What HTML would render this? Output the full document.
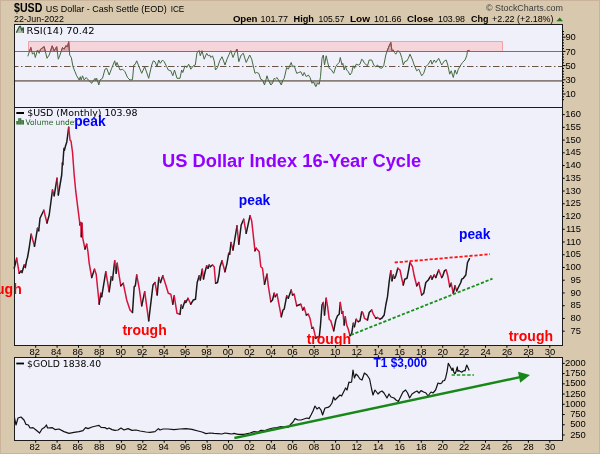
<!DOCTYPE html>
<html><head><meta charset="utf-8"><title>$USD US Dollar Index 16-Year Cycle</title>
<style>html,body{margin:0;padding:0;background:#d8c8ad;}body{width:600px;height:454px;overflow:hidden}</style>
</head><body>
<svg width="600" height="454" viewBox="0 0 600 454" style="display:block">
<rect width="600" height="454" fill="#d8c8ad"/>
<rect x="0.5" y="0.5" width="599" height="453" fill="none" stroke="#cbb29a" stroke-width="1"/>
<defs>
<clipPath id="c1"><rect x="14.5" y="24.5" width="548.0" height="83.0"/></clipPath>
<clipPath id="c2"><rect x="0" y="107.5" width="562.5" height="238.0"/></clipPath>
<clipPath id="c3"><rect x="14.5" y="357.5" width="548.0" height="83.0"/></clipPath>
</defs>
<rect x="14.5" y="24.5" width="548.0" height="83.0" fill="#eff0fa"/>
<rect x="14.5" y="107.5" width="548.0" height="238.0" fill="#eff0fa"/>
<rect x="14.5" y="357.5" width="548.0" height="83.0" fill="#eff0fa"/>
<text x="14" y="11.7" font-family="Liberation Sans, Arial, sans-serif" font-size="12.5" font-weight="bold" fill="#000" textLength="28.3" lengthAdjust="spacingAndGlyphs">$USD</text>
<text x="45.7" y="11.7" font-family="Liberation Sans, Arial, sans-serif" font-size="9.2" fill="#000" textLength="121" lengthAdjust="spacingAndGlyphs">US Dollar - Cash Settle (EOD)</text>
<text x="170.7" y="11.7" font-family="Liberation Sans, Arial, sans-serif" font-size="8.5" fill="#000" textLength="13.6" lengthAdjust="spacingAndGlyphs">ICE</text>
<text x="14" y="21.7" font-family="Liberation Sans, Arial, sans-serif" font-size="9" fill="#000" textLength="50" lengthAdjust="spacingAndGlyphs">22-Jun-2022</text>
<text x="486" y="10.7" font-family="Liberation Sans, Arial, sans-serif" font-size="9" fill="#3c3c3c" textLength="77" lengthAdjust="spacingAndGlyphs">© StockCharts.com</text>
<text x="232.9" y="22" font-family="Liberation Sans, Arial, sans-serif" font-size="9.4" font-weight="bold" fill="#000" textLength="24.6" lengthAdjust="spacingAndGlyphs">Open</text>
<text x="260.5" y="22" font-family="Liberation Sans, Arial, sans-serif" font-size="9.2"  fill="#000" textLength="27.6" lengthAdjust="spacingAndGlyphs">101.77</text>
<text x="293.5" y="22" font-family="Liberation Sans, Arial, sans-serif" font-size="9.4" font-weight="bold" fill="#000" textLength="20.4" lengthAdjust="spacingAndGlyphs">High</text>
<text x="318.4" y="22" font-family="Liberation Sans, Arial, sans-serif" font-size="9.2"  fill="#000" textLength="26.1" lengthAdjust="spacingAndGlyphs">105.57</text>
<text x="349.9" y="22" font-family="Liberation Sans, Arial, sans-serif" font-size="9.4" font-weight="bold" fill="#000" textLength="20.1" lengthAdjust="spacingAndGlyphs">Low</text>
<text x="373.9" y="22" font-family="Liberation Sans, Arial, sans-serif" font-size="9.2"  fill="#000" textLength="27.5" lengthAdjust="spacingAndGlyphs">101.66</text>
<text x="407.1" y="22" font-family="Liberation Sans, Arial, sans-serif" font-size="9.4" font-weight="bold" fill="#000" textLength="26.4" lengthAdjust="spacingAndGlyphs">Close</text>
<text x="438" y="22" font-family="Liberation Sans, Arial, sans-serif" font-size="9.2"  fill="#000" textLength="27.0" lengthAdjust="spacingAndGlyphs">103.98</text>
<text x="471" y="22" font-family="Liberation Sans, Arial, sans-serif" font-size="9.4" font-weight="bold" fill="#000" textLength="17.4" lengthAdjust="spacingAndGlyphs">Chg</text>
<text x="492" y="22" font-family="Liberation Sans, Arial, sans-serif" font-size="9.2"  fill="#000" textLength="61.5" lengthAdjust="spacingAndGlyphs">+2.22 (+2.18%)</text>
<path d="M556.5 21.3 L563 21.3 L559.7 17.6 Z" fill="#1a7a1a"/>
<clipPath id="cA"><rect x="14.5" y="24.5" width="548.0" height="27.0"/></clipPath>
<clipPath id="cB"><rect x="14.5" y="80.5" width="548.0" height="27.0"/></clipPath>
<rect x="28" y="41" width="475" height="10.5" fill="#f5d5da"/>
<path d="M28.5 51 V41.5 H502.5 V51" fill="none" stroke="#f3a3a8" stroke-width="1"/>
<polygon points="27.8,51.5 27.8,56.3 30.8,47.5 32.5,54.2 34.2,52.5 35.3,57.5 37.5,50.0 39.2,53.3 40.5,49.2 44.2,46.7 47.0,58.3 49.2,55.0 52.2,45.8 54.2,50.8 56.7,46.7 58.3,59.2 60.0,55.0 62.5,47.5 64.2,49.2 65.8,45.8 67.5,46.7 68.7,41.7 69.7,55.0 71.3,57.5 73.0,66.7 75.0,71.7 76.7,75.8 79.2,80.0 80.3,76.7 81.2,80.0 82.5,75.8 84.2,80.0 86.2,77.5 88.3,80.0 91.7,83.3 95.0,78.3 95.8,80.8 96.7,78.3 98.8,85.0 100.0,80.0 102.5,78.3 105.0,69.2 106.7,68.3 109.2,75.0 111.7,68.3 114.7,60.8 115.8,65.8 117.0,62.5 120.0,70.0 122.5,69.2 125.0,71.7 127.5,77.5 130.0,80.0 132.5,79.7 133.8,65.0 135.3,64.2 136.7,60.8 138.7,65.8 141.7,73.3 144.7,66.7 148.7,78.3 151.7,65.0 153.3,60.8 155.0,61.7 157.0,66.7 158.7,60.0 160.3,63.3 162.5,60.0 164.2,61.7 166.7,66.7 168.3,70.0 170.8,70.8 172.8,75.8 174.5,70.0 177.0,78.3 180.0,78.3 181.7,70.0 182.8,72.5 185.0,65.8 186.7,67.5 188.7,64.2 190.8,69.2 193.3,65.8 195.3,65.0 197.0,52.5 199.2,50.8 200.3,55.8 202.0,50.8 204.2,59.2 206.7,53.3 208.3,55.8 209.7,55.0 210.8,57.5 212.5,55.8 214.2,60.8 215.5,70.0 217.5,67.5 219.7,60.8 222.0,56.7 225.0,65.0 227.0,59.2 229.2,54.2 230.8,50.8 233.0,57.5 235.0,52.5 237.0,49.2 238.8,61.7 241.2,55.0 243.3,53.3 246.2,62.5 249.7,55.0 251.7,59.2 255.0,73.3 256.7,72.5 258.7,73.3 260.8,79.2 262.5,80.0 264.5,85.0 267.0,75.8 268.3,80.0 270.8,85.0 272.5,83.3 274.2,78.3 275.3,79.2 277.0,77.5 281.3,85.0 283.0,80.0 284.2,78.3 286.7,67.5 288.3,69.2 291.2,62.5 292.5,66.7 294.2,65.8 296.7,73.3 298.7,72.5 300.8,71.7 302.8,75.8 304.2,72.5 306.3,76.7 308.3,75.0 310.0,77.5 312.0,83.3 313.3,81.7 315.8,86.7 317.5,83.3 319.2,84.2 320.5,76.7 322.0,58.3 323.3,55.0 324.5,65.0 326.2,55.8 327.5,61.7 329.2,68.3 330.8,69.2 333.7,73.3 335.8,66.7 337.5,64.2 339.2,62.5 340.3,57.5 342.0,65.0 342.8,63.3 344.2,70.0 345.3,65.8 346.7,70.0 348.3,71.7 350.0,75.0 351.7,72.5 353.3,65.8 354.5,68.3 356.2,64.2 358.3,65.0 360.0,64.2 361.7,59.2 362.8,60.0 364.5,63.3 367.5,65.8 369.2,60.0 371.7,60.0 374.2,65.8 375.8,66.7 377.5,65.0 379.2,67.5 381.7,68.3 383.7,65.8 385.8,55.0 387.5,50.0 389.2,45.8 390.8,42.5 392.0,50.8 393.3,50.0 394.5,52.5 395.8,54.2 397.8,50.8 400.0,52.5 401.7,57.5 403.3,65.0 404.7,61.7 407.0,60.8 408.3,58.3 410.0,54.2 412.5,60.0 414.2,65.0 416.7,70.8 418.8,69.2 421.7,75.8 423.7,73.3 425.8,66.7 428.3,64.2 430.8,60.0 432.0,64.2 434.2,60.0 435.8,62.5 438.7,58.3 441.7,65.0 442.8,63.3 444.5,60.8 446.2,60.0 447.8,65.0 449.7,74.2 451.2,70.8 453.3,77.5 455.0,70.0 456.7,74.2 458.3,69.2 460.8,65.0 462.5,62.5 465.0,60.0 466.7,55.8 467.5,50.8 469.5,50.4 469.5,51.5" fill="#b08a8a" fill-opacity="0.55" clip-path="url(#cA)"/>
<polygon points="27.8,80.5 27.8,56.3 30.8,47.5 32.5,54.2 34.2,52.5 35.3,57.5 37.5,50.0 39.2,53.3 40.5,49.2 44.2,46.7 47.0,58.3 49.2,55.0 52.2,45.8 54.2,50.8 56.7,46.7 58.3,59.2 60.0,55.0 62.5,47.5 64.2,49.2 65.8,45.8 67.5,46.7 68.7,41.7 69.7,55.0 71.3,57.5 73.0,66.7 75.0,71.7 76.7,75.8 79.2,80.0 80.3,76.7 81.2,80.0 82.5,75.8 84.2,80.0 86.2,77.5 88.3,80.0 91.7,83.3 95.0,78.3 95.8,80.8 96.7,78.3 98.8,85.0 100.0,80.0 102.5,78.3 105.0,69.2 106.7,68.3 109.2,75.0 111.7,68.3 114.7,60.8 115.8,65.8 117.0,62.5 120.0,70.0 122.5,69.2 125.0,71.7 127.5,77.5 130.0,80.0 132.5,79.7 133.8,65.0 135.3,64.2 136.7,60.8 138.7,65.8 141.7,73.3 144.7,66.7 148.7,78.3 151.7,65.0 153.3,60.8 155.0,61.7 157.0,66.7 158.7,60.0 160.3,63.3 162.5,60.0 164.2,61.7 166.7,66.7 168.3,70.0 170.8,70.8 172.8,75.8 174.5,70.0 177.0,78.3 180.0,78.3 181.7,70.0 182.8,72.5 185.0,65.8 186.7,67.5 188.7,64.2 190.8,69.2 193.3,65.8 195.3,65.0 197.0,52.5 199.2,50.8 200.3,55.8 202.0,50.8 204.2,59.2 206.7,53.3 208.3,55.8 209.7,55.0 210.8,57.5 212.5,55.8 214.2,60.8 215.5,70.0 217.5,67.5 219.7,60.8 222.0,56.7 225.0,65.0 227.0,59.2 229.2,54.2 230.8,50.8 233.0,57.5 235.0,52.5 237.0,49.2 238.8,61.7 241.2,55.0 243.3,53.3 246.2,62.5 249.7,55.0 251.7,59.2 255.0,73.3 256.7,72.5 258.7,73.3 260.8,79.2 262.5,80.0 264.5,85.0 267.0,75.8 268.3,80.0 270.8,85.0 272.5,83.3 274.2,78.3 275.3,79.2 277.0,77.5 281.3,85.0 283.0,80.0 284.2,78.3 286.7,67.5 288.3,69.2 291.2,62.5 292.5,66.7 294.2,65.8 296.7,73.3 298.7,72.5 300.8,71.7 302.8,75.8 304.2,72.5 306.3,76.7 308.3,75.0 310.0,77.5 312.0,83.3 313.3,81.7 315.8,86.7 317.5,83.3 319.2,84.2 320.5,76.7 322.0,58.3 323.3,55.0 324.5,65.0 326.2,55.8 327.5,61.7 329.2,68.3 330.8,69.2 333.7,73.3 335.8,66.7 337.5,64.2 339.2,62.5 340.3,57.5 342.0,65.0 342.8,63.3 344.2,70.0 345.3,65.8 346.7,70.0 348.3,71.7 350.0,75.0 351.7,72.5 353.3,65.8 354.5,68.3 356.2,64.2 358.3,65.0 360.0,64.2 361.7,59.2 362.8,60.0 364.5,63.3 367.5,65.8 369.2,60.0 371.7,60.0 374.2,65.8 375.8,66.7 377.5,65.0 379.2,67.5 381.7,68.3 383.7,65.8 385.8,55.0 387.5,50.0 389.2,45.8 390.8,42.5 392.0,50.8 393.3,50.0 394.5,52.5 395.8,54.2 397.8,50.8 400.0,52.5 401.7,57.5 403.3,65.0 404.7,61.7 407.0,60.8 408.3,58.3 410.0,54.2 412.5,60.0 414.2,65.0 416.7,70.8 418.8,69.2 421.7,75.8 423.7,73.3 425.8,66.7 428.3,64.2 430.8,60.0 432.0,64.2 434.2,60.0 435.8,62.5 438.7,58.3 441.7,65.0 442.8,63.3 444.5,60.8 446.2,60.0 447.8,65.0 449.7,74.2 451.2,70.8 453.3,77.5 455.0,70.0 456.7,74.2 458.3,69.2 460.8,65.0 462.5,62.5 465.0,60.0 466.7,55.8 467.5,50.8 469.5,50.4 469.5,80.5" fill="#9a9a94" fill-opacity="0.6" clip-path="url(#cB)"/>
<line x1="14.5" x2="562.5" y1="51.5" y2="51.5" stroke="#826f63" stroke-width="1"/>
<line x1="14.5" x2="562.5" y1="66.5" y2="66.5" stroke="#6a5444" stroke-width="1" stroke-dasharray="6.5 2.5 1.5 2.5" stroke-dashoffset="2.5"/>
<line x1="14.5" x2="562.5" y1="80.9" y2="80.9" stroke="#8a7e78" stroke-width="1.6"/>
<polyline points="27.8,56.3 30.8,47.5 32.5,54.2 34.2,52.5 35.3,57.5 37.5,50.0 39.2,53.3 40.5,49.2 44.2,46.7 47.0,58.3 49.2,55.0 52.2,45.8 54.2,50.8 56.7,46.7 58.3,59.2 60.0,55.0 62.5,47.5 64.2,49.2 65.8,45.8 67.5,46.7 68.7,41.7 69.7,55.0 71.3,57.5 73.0,66.7 75.0,71.7 76.7,75.8 79.2,80.0 80.3,76.7 81.2,80.0 82.5,75.8 84.2,80.0 86.2,77.5 88.3,80.0 91.7,83.3 95.0,78.3 95.8,80.8 96.7,78.3 98.8,85.0 100.0,80.0 102.5,78.3 105.0,69.2 106.7,68.3 109.2,75.0 111.7,68.3 114.7,60.8 115.8,65.8 117.0,62.5 120.0,70.0 122.5,69.2 125.0,71.7 127.5,77.5 130.0,80.0 132.5,79.7 133.8,65.0 135.3,64.2 136.7,60.8 138.7,65.8 141.7,73.3 144.7,66.7 148.7,78.3 151.7,65.0 153.3,60.8 155.0,61.7 157.0,66.7 158.7,60.0 160.3,63.3 162.5,60.0 164.2,61.7 166.7,66.7 168.3,70.0 170.8,70.8 172.8,75.8 174.5,70.0 177.0,78.3 180.0,78.3 181.7,70.0 182.8,72.5 185.0,65.8 186.7,67.5 188.7,64.2 190.8,69.2 193.3,65.8 195.3,65.0 197.0,52.5 199.2,50.8 200.3,55.8 202.0,50.8 204.2,59.2 206.7,53.3 208.3,55.8 209.7,55.0 210.8,57.5 212.5,55.8 214.2,60.8 215.5,70.0 217.5,67.5 219.7,60.8 222.0,56.7 225.0,65.0 227.0,59.2 229.2,54.2 230.8,50.8 233.0,57.5 235.0,52.5 237.0,49.2 238.8,61.7 241.2,55.0 243.3,53.3 246.2,62.5 249.7,55.0 251.7,59.2 255.0,73.3 256.7,72.5 258.7,73.3 260.8,79.2 262.5,80.0 264.5,85.0 267.0,75.8 268.3,80.0 270.8,85.0 272.5,83.3 274.2,78.3 275.3,79.2 277.0,77.5 281.3,85.0 283.0,80.0 284.2,78.3 286.7,67.5 288.3,69.2 291.2,62.5 292.5,66.7 294.2,65.8 296.7,73.3 298.7,72.5 300.8,71.7 302.8,75.8 304.2,72.5 306.3,76.7 308.3,75.0 310.0,77.5 312.0,83.3 313.3,81.7 315.8,86.7 317.5,83.3 319.2,84.2 320.5,76.7 322.0,58.3 323.3,55.0 324.5,65.0 326.2,55.8 327.5,61.7 329.2,68.3 330.8,69.2 333.7,73.3 335.8,66.7 337.5,64.2 339.2,62.5 340.3,57.5 342.0,65.0 342.8,63.3 344.2,70.0 345.3,65.8 346.7,70.0 348.3,71.7 350.0,75.0 351.7,72.5 353.3,65.8 354.5,68.3 356.2,64.2 358.3,65.0 360.0,64.2 361.7,59.2 362.8,60.0 364.5,63.3 367.5,65.8 369.2,60.0 371.7,60.0 374.2,65.8 375.8,66.7 377.5,65.0 379.2,67.5 381.7,68.3 383.7,65.8 385.8,55.0 387.5,50.0 389.2,45.8 390.8,42.5 392.0,50.8 393.3,50.0 394.5,52.5 395.8,54.2 397.8,50.8 400.0,52.5 401.7,57.5 403.3,65.0 404.7,61.7 407.0,60.8 408.3,58.3 410.0,54.2 412.5,60.0 414.2,65.0 416.7,70.8 418.8,69.2 421.7,75.8 423.7,73.3 425.8,66.7 428.3,64.2 430.8,60.0 432.0,64.2 434.2,60.0 435.8,62.5 438.7,58.3 441.7,65.0 442.8,63.3 444.5,60.8 446.2,60.0 447.8,65.0 449.7,74.2 451.2,70.8 453.3,77.5 455.0,70.0 456.7,74.2 458.3,69.2 460.8,65.0 462.5,62.5 465.0,60.0 466.7,55.8 467.5,50.8 469.5,50.4" fill="none" stroke="#446940" stroke-width="1" stroke-linejoin="round" clip-path="url(#c1)"/>
<polyline points="27.8,56.3 30.8,47.5 32.5,54.2 34.2,52.5 35.3,57.5 37.5,50.0 39.2,53.3 40.5,49.2 44.2,46.7 47.0,58.3 49.2,55.0 52.2,45.8 54.2,50.8 56.7,46.7 58.3,59.2 60.0,55.0 62.5,47.5 64.2,49.2 65.8,45.8 67.5,46.7 68.7,41.7 69.7,55.0 71.3,57.5 73.0,66.7 75.0,71.7 76.7,75.8 79.2,80.0 80.3,76.7 81.2,80.0 82.5,75.8 84.2,80.0 86.2,77.5 88.3,80.0 91.7,83.3 95.0,78.3 95.8,80.8 96.7,78.3 98.8,85.0 100.0,80.0 102.5,78.3 105.0,69.2 106.7,68.3 109.2,75.0 111.7,68.3 114.7,60.8 115.8,65.8 117.0,62.5 120.0,70.0 122.5,69.2 125.0,71.7 127.5,77.5 130.0,80.0 132.5,79.7 133.8,65.0 135.3,64.2 136.7,60.8 138.7,65.8 141.7,73.3 144.7,66.7 148.7,78.3 151.7,65.0 153.3,60.8 155.0,61.7 157.0,66.7 158.7,60.0 160.3,63.3 162.5,60.0 164.2,61.7 166.7,66.7 168.3,70.0 170.8,70.8 172.8,75.8 174.5,70.0 177.0,78.3 180.0,78.3 181.7,70.0 182.8,72.5 185.0,65.8 186.7,67.5 188.7,64.2 190.8,69.2 193.3,65.8 195.3,65.0 197.0,52.5 199.2,50.8 200.3,55.8 202.0,50.8 204.2,59.2 206.7,53.3 208.3,55.8 209.7,55.0 210.8,57.5 212.5,55.8 214.2,60.8 215.5,70.0 217.5,67.5 219.7,60.8 222.0,56.7 225.0,65.0 227.0,59.2 229.2,54.2 230.8,50.8 233.0,57.5 235.0,52.5 237.0,49.2 238.8,61.7 241.2,55.0 243.3,53.3 246.2,62.5 249.7,55.0 251.7,59.2 255.0,73.3 256.7,72.5 258.7,73.3 260.8,79.2 262.5,80.0 264.5,85.0 267.0,75.8 268.3,80.0 270.8,85.0 272.5,83.3 274.2,78.3 275.3,79.2 277.0,77.5 281.3,85.0 283.0,80.0 284.2,78.3 286.7,67.5 288.3,69.2 291.2,62.5 292.5,66.7 294.2,65.8 296.7,73.3 298.7,72.5 300.8,71.7 302.8,75.8 304.2,72.5 306.3,76.7 308.3,75.0 310.0,77.5 312.0,83.3 313.3,81.7 315.8,86.7 317.5,83.3 319.2,84.2 320.5,76.7 322.0,58.3 323.3,55.0 324.5,65.0 326.2,55.8 327.5,61.7 329.2,68.3 330.8,69.2 333.7,73.3 335.8,66.7 337.5,64.2 339.2,62.5 340.3,57.5 342.0,65.0 342.8,63.3 344.2,70.0 345.3,65.8 346.7,70.0 348.3,71.7 350.0,75.0 351.7,72.5 353.3,65.8 354.5,68.3 356.2,64.2 358.3,65.0 360.0,64.2 361.7,59.2 362.8,60.0 364.5,63.3 367.5,65.8 369.2,60.0 371.7,60.0 374.2,65.8 375.8,66.7 377.5,65.0 379.2,67.5 381.7,68.3 383.7,65.8 385.8,55.0 387.5,50.0 389.2,45.8 390.8,42.5 392.0,50.8 393.3,50.0 394.5,52.5 395.8,54.2 397.8,50.8 400.0,52.5 401.7,57.5 403.3,65.0 404.7,61.7 407.0,60.8 408.3,58.3 410.0,54.2 412.5,60.0 414.2,65.0 416.7,70.8 418.8,69.2 421.7,75.8 423.7,73.3 425.8,66.7 428.3,64.2 430.8,60.0 432.0,64.2 434.2,60.0 435.8,62.5 438.7,58.3 441.7,65.0 442.8,63.3 444.5,60.8 446.2,60.0 447.8,65.0 449.7,74.2 451.2,70.8 453.3,77.5 455.0,70.0 456.7,74.2 458.3,69.2 460.8,65.0 462.5,62.5 465.0,60.0 466.7,55.8 467.5,50.8 469.5,50.4" fill="none" stroke="#a8404e" stroke-width="1" stroke-linejoin="round" clip-path="url(#cA)"/>
<text x="26.6" y="33.8" font-family="DejaVu Sans, Verdana, sans-serif" font-size="8.3" fill="#000" textLength="67.9" lengthAdjust="spacingAndGlyphs">RSI(14) 70.42</text>
<path d="M16.3 33 L19.4 26.6 L20.5 26.4 L21.8 30.3 L23.4 27.4 L23.4 33 Z" fill="#b4b4ac"/><path d="M16.3 32.6 L19.4 26.6 L20.5 26.4 L21.8 30.3 L23.4 27.4 L23.4 33" fill="none" stroke="#2f5f2f" stroke-width="1.2"/>
<g clip-path="url(#c2)">
<polyline points="14.2,268.3 16.7,258.3" fill="none" stroke="#1a1a1a" stroke-width="1.5" stroke-linejoin="round" stroke-linecap="round"/>
<polyline points="16.7,258.3 19.2,273.3" fill="none" stroke="#d8143c" stroke-width="1.5" stroke-linejoin="round" stroke-linecap="round"/>
<polyline points="19.2,273.3 21.3,270.8" fill="none" stroke="#1a1a1a" stroke-width="1.5" stroke-linejoin="round" stroke-linecap="round"/>
<polyline points="21.3,270.8 22.0,272.5" fill="none" stroke="#d8143c" stroke-width="1.5" stroke-linejoin="round" stroke-linecap="round"/>
<polyline points="22.0,272.5 24.2,265.0" fill="none" stroke="#1a1a1a" stroke-width="1.5" stroke-linejoin="round" stroke-linecap="round"/>
<polyline points="24.2,265.0 25.3,267.5" fill="none" stroke="#d8143c" stroke-width="1.5" stroke-linejoin="round" stroke-linecap="round"/>
<polyline points="25.3,267.5 26.7,260.0 27.5,257.5 29.0,249.0 31.2,234.2" fill="none" stroke="#1a1a1a" stroke-width="1.5" stroke-linejoin="round" stroke-linecap="round"/>
<polyline points="31.2,234.2 34.5,246.3" fill="none" stroke="#d8143c" stroke-width="1.5" stroke-linejoin="round" stroke-linecap="round"/>
<polyline points="34.5,246.3 37.5,228.3" fill="none" stroke="#1a1a1a" stroke-width="1.5" stroke-linejoin="round" stroke-linecap="round"/>
<polyline points="37.5,228.3 38.7,230.8" fill="none" stroke="#d8143c" stroke-width="1.5" stroke-linejoin="round" stroke-linecap="round"/>
<polyline points="38.7,230.8 40.0,218.3 43.8,210.3" fill="none" stroke="#1a1a1a" stroke-width="1.5" stroke-linejoin="round" stroke-linecap="round"/>
<polyline points="43.8,210.3 47.0,223.0" fill="none" stroke="#d8143c" stroke-width="1.5" stroke-linejoin="round" stroke-linecap="round"/>
<polyline points="47.0,223.0 49.2,215.0 52.5,190.0" fill="none" stroke="#1a1a1a" stroke-width="1.5" stroke-linejoin="round" stroke-linecap="round"/>
<polyline points="52.5,190.0 54.2,195.8" fill="none" stroke="#d8143c" stroke-width="1.5" stroke-linejoin="round" stroke-linecap="round"/>
<polyline points="54.2,195.8 57.0,178.3" fill="none" stroke="#1a1a1a" stroke-width="1.5" stroke-linejoin="round" stroke-linecap="round"/>
<polyline points="57.0,178.3 58.3,195.0" fill="none" stroke="#d8143c" stroke-width="1.5" stroke-linejoin="round" stroke-linecap="round"/>
<polyline points="58.3,195.0 61.7,175.0 62.4,163.0" fill="none" stroke="#1a1a1a" stroke-width="1.5" stroke-linejoin="round" stroke-linecap="round"/>
<polyline points="62.4,163.0 62.8,164.8" fill="none" stroke="#d8143c" stroke-width="1.5" stroke-linejoin="round" stroke-linecap="round"/>
<polyline points="62.8,164.8 63.9,148.5" fill="none" stroke="#1a1a1a" stroke-width="1.5" stroke-linejoin="round" stroke-linecap="round"/>
<polyline points="63.9,148.5 64.4,150.3" fill="none" stroke="#d8143c" stroke-width="1.5" stroke-linejoin="round" stroke-linecap="round"/>
<polyline points="64.4,150.3 65.5,146.0 66.8,142.0 68.7,127.2" fill="none" stroke="#1a1a1a" stroke-width="1.5" stroke-linejoin="round" stroke-linecap="round"/>
<polyline points="68.7,127.2 70.0,140.0 71.0,141.0 72.5,152.0 74.2,175.0 75.8,191.7 78.3,211.7 80.0,225.0" fill="none" stroke="#d8143c" stroke-width="1.5" stroke-linejoin="round" stroke-linecap="round"/>
<polyline points="80.0,225.0 80.8,222.5" fill="none" stroke="#1a1a1a" stroke-width="1.5" stroke-linejoin="round" stroke-linecap="round"/>
<polyline points="80.8,222.5 81.3,236.7" fill="none" stroke="#d8143c" stroke-width="1.5" stroke-linejoin="round" stroke-linecap="round"/>
<polyline points="81.3,236.7 82.0,223.3" fill="none" stroke="#1a1a1a" stroke-width="1.5" stroke-linejoin="round" stroke-linecap="round"/>
<polyline points="82.0,223.3 82.8,238.3 85.0,249.0" fill="none" stroke="#d8143c" stroke-width="1.5" stroke-linejoin="round" stroke-linecap="round"/>
<polyline points="85.0,249.0 86.7,244.2" fill="none" stroke="#1a1a1a" stroke-width="1.5" stroke-linejoin="round" stroke-linecap="round"/>
<polyline points="86.7,244.2 88.0,252.0 89.2,263.3 91.7,277.5" fill="none" stroke="#d8143c" stroke-width="1.5" stroke-linejoin="round" stroke-linecap="round"/>
<polyline points="91.7,277.5 94.5,269.2" fill="none" stroke="#1a1a1a" stroke-width="1.5" stroke-linejoin="round" stroke-linecap="round"/>
<polyline points="94.5,269.2 96.2,274.2 99.2,304.2" fill="none" stroke="#d8143c" stroke-width="1.5" stroke-linejoin="round" stroke-linecap="round"/>
<polyline points="99.2,304.2 100.8,293.3" fill="none" stroke="#1a1a1a" stroke-width="1.5" stroke-linejoin="round" stroke-linecap="round"/>
<polyline points="100.8,293.3 101.7,296.7" fill="none" stroke="#d8143c" stroke-width="1.5" stroke-linejoin="round" stroke-linecap="round"/>
<polyline points="101.7,296.7 105.8,271.7" fill="none" stroke="#1a1a1a" stroke-width="1.5" stroke-linejoin="round" stroke-linecap="round"/>
<polyline points="105.8,271.7 109.2,291.7" fill="none" stroke="#d8143c" stroke-width="1.5" stroke-linejoin="round" stroke-linecap="round"/>
<polyline points="109.2,291.7 111.3,276.7" fill="none" stroke="#1a1a1a" stroke-width="1.5" stroke-linejoin="round" stroke-linecap="round"/>
<polyline points="111.3,276.7 112.5,280.0" fill="none" stroke="#d8143c" stroke-width="1.5" stroke-linejoin="round" stroke-linecap="round"/>
<polyline points="112.5,280.0 114.7,260.8" fill="none" stroke="#1a1a1a" stroke-width="1.5" stroke-linejoin="round" stroke-linecap="round"/>
<polyline points="114.7,260.8 116.2,273.3" fill="none" stroke="#d8143c" stroke-width="1.5" stroke-linejoin="round" stroke-linecap="round"/>
<polyline points="116.2,273.3 117.2,263.3" fill="none" stroke="#1a1a1a" stroke-width="1.5" stroke-linejoin="round" stroke-linecap="round"/>
<polyline points="117.2,263.3 120.8,285.8" fill="none" stroke="#d8143c" stroke-width="1.5" stroke-linejoin="round" stroke-linecap="round"/>
<polyline points="120.8,285.8 123.3,283.3" fill="none" stroke="#1a1a1a" stroke-width="1.5" stroke-linejoin="round" stroke-linecap="round"/>
<polyline points="123.3,283.3 126.7,300.0 130.0,310.0 132.5,312.5" fill="none" stroke="#d8143c" stroke-width="1.5" stroke-linejoin="round" stroke-linecap="round"/>
<polyline points="132.5,312.5 134.2,286.7 135.3,285.8 136.7,275.0" fill="none" stroke="#1a1a1a" stroke-width="1.5" stroke-linejoin="round" stroke-linecap="round"/>
<polyline points="136.7,275.0 139.2,288.3 141.7,305.8" fill="none" stroke="#d8143c" stroke-width="1.5" stroke-linejoin="round" stroke-linecap="round"/>
<polyline points="141.7,305.8 144.7,291.7" fill="none" stroke="#1a1a1a" stroke-width="1.5" stroke-linejoin="round" stroke-linecap="round"/>
<polyline points="144.7,291.7 148.7,320.8" fill="none" stroke="#d8143c" stroke-width="1.5" stroke-linejoin="round" stroke-linecap="round"/>
<polyline points="148.7,320.8 153.0,285.0 155.0,282.5" fill="none" stroke="#1a1a1a" stroke-width="1.5" stroke-linejoin="round" stroke-linecap="round"/>
<polyline points="155.0,282.5 157.2,295.0" fill="none" stroke="#d8143c" stroke-width="1.5" stroke-linejoin="round" stroke-linecap="round"/>
<polyline points="157.2,295.0 158.8,277.5" fill="none" stroke="#1a1a1a" stroke-width="1.5" stroke-linejoin="round" stroke-linecap="round"/>
<polyline points="158.8,277.5 160.5,282.5" fill="none" stroke="#d8143c" stroke-width="1.5" stroke-linejoin="round" stroke-linecap="round"/>
<polyline points="160.5,282.5 162.8,275.8" fill="none" stroke="#1a1a1a" stroke-width="1.5" stroke-linejoin="round" stroke-linecap="round"/>
<polyline points="162.8,275.8 165.8,285.0 168.3,293.3 170.8,294.2 172.8,304.2" fill="none" stroke="#d8143c" stroke-width="1.5" stroke-linejoin="round" stroke-linecap="round"/>
<polyline points="172.8,304.2 174.2,295.8" fill="none" stroke="#1a1a1a" stroke-width="1.5" stroke-linejoin="round" stroke-linecap="round"/>
<polyline points="174.2,295.8 177.0,313.3 180.0,314.2" fill="none" stroke="#d8143c" stroke-width="1.5" stroke-linejoin="round" stroke-linecap="round"/>
<polyline points="180.0,314.2 181.2,305.0" fill="none" stroke="#1a1a1a" stroke-width="1.5" stroke-linejoin="round" stroke-linecap="round"/>
<polyline points="181.2,305.0 182.5,308.3" fill="none" stroke="#d8143c" stroke-width="1.5" stroke-linejoin="round" stroke-linecap="round"/>
<polyline points="182.5,308.3 185.0,300.8" fill="none" stroke="#1a1a1a" stroke-width="1.5" stroke-linejoin="round" stroke-linecap="round"/>
<polyline points="185.0,300.8 185.8,302.5" fill="none" stroke="#d8143c" stroke-width="1.5" stroke-linejoin="round" stroke-linecap="round"/>
<polyline points="185.8,302.5 188.0,298.3" fill="none" stroke="#1a1a1a" stroke-width="1.5" stroke-linejoin="round" stroke-linecap="round"/>
<polyline points="188.0,298.3 190.8,304.2" fill="none" stroke="#d8143c" stroke-width="1.5" stroke-linejoin="round" stroke-linecap="round"/>
<polyline points="190.8,304.2 193.3,300.0 195.5,299.2 197.2,282.5 199.2,275.8" fill="none" stroke="#1a1a1a" stroke-width="1.5" stroke-linejoin="round" stroke-linecap="round"/>
<polyline points="199.2,275.8 200.3,280.0" fill="none" stroke="#d8143c" stroke-width="1.5" stroke-linejoin="round" stroke-linecap="round"/>
<polyline points="200.3,280.0 202.3,269.2" fill="none" stroke="#1a1a1a" stroke-width="1.5" stroke-linejoin="round" stroke-linecap="round"/>
<polyline points="202.3,269.2 203.5,279.0" fill="none" stroke="#d8143c" stroke-width="1.5" stroke-linejoin="round" stroke-linecap="round"/>
<polyline points="203.5,279.0 205.0,272.0 206.7,265.8" fill="none" stroke="#1a1a1a" stroke-width="1.5" stroke-linejoin="round" stroke-linecap="round"/>
<polyline points="206.7,265.8 208.0,268.3" fill="none" stroke="#d8143c" stroke-width="1.5" stroke-linejoin="round" stroke-linecap="round"/>
<polyline points="208.0,268.3 209.2,265.0" fill="none" stroke="#1a1a1a" stroke-width="1.5" stroke-linejoin="round" stroke-linecap="round"/>
<polyline points="209.2,265.0 210.3,266.7" fill="none" stroke="#d8143c" stroke-width="1.5" stroke-linejoin="round" stroke-linecap="round"/>
<polyline points="210.3,266.7 212.5,265.0" fill="none" stroke="#1a1a1a" stroke-width="1.5" stroke-linejoin="round" stroke-linecap="round"/>
<polyline points="212.5,265.0 214.2,266.7 215.6,283.3" fill="none" stroke="#d8143c" stroke-width="1.5" stroke-linejoin="round" stroke-linecap="round"/>
<polyline points="215.6,283.3 217.5,282.5 219.0,275.0 220.0,266.7 222.0,260.8" fill="none" stroke="#1a1a1a" stroke-width="1.5" stroke-linejoin="round" stroke-linecap="round"/>
<polyline points="222.0,260.8 225.0,271.7" fill="none" stroke="#d8143c" stroke-width="1.5" stroke-linejoin="round" stroke-linecap="round"/>
<polyline points="225.0,271.7 227.0,263.3 228.7,253.3" fill="none" stroke="#1a1a1a" stroke-width="1.5" stroke-linejoin="round" stroke-linecap="round"/>
<polyline points="228.7,253.3 229.7,254.2" fill="none" stroke="#d8143c" stroke-width="1.5" stroke-linejoin="round" stroke-linecap="round"/>
<polyline points="229.7,254.2 231.0,242.5" fill="none" stroke="#1a1a1a" stroke-width="1.5" stroke-linejoin="round" stroke-linecap="round"/>
<polyline points="231.0,242.5 233.0,250.0" fill="none" stroke="#d8143c" stroke-width="1.5" stroke-linejoin="round" stroke-linecap="round"/>
<polyline points="233.0,250.0 237.0,225.8" fill="none" stroke="#1a1a1a" stroke-width="1.5" stroke-linejoin="round" stroke-linecap="round"/>
<polyline points="237.0,225.8 238.8,244.2" fill="none" stroke="#d8143c" stroke-width="1.5" stroke-linejoin="round" stroke-linecap="round"/>
<polyline points="238.8,244.2 241.2,225.0 243.7,219.2" fill="none" stroke="#1a1a1a" stroke-width="1.5" stroke-linejoin="round" stroke-linecap="round"/>
<polyline points="243.7,219.2 246.2,233.3" fill="none" stroke="#d8143c" stroke-width="1.5" stroke-linejoin="round" stroke-linecap="round"/>
<polyline points="246.2,233.3 250.0,215.8" fill="none" stroke="#1a1a1a" stroke-width="1.5" stroke-linejoin="round" stroke-linecap="round"/>
<polyline points="250.0,215.8 251.7,220.8 255.0,250.8" fill="none" stroke="#d8143c" stroke-width="1.5" stroke-linejoin="round" stroke-linecap="round"/>
<polyline points="255.0,250.8 256.2,248.3" fill="none" stroke="#1a1a1a" stroke-width="1.5" stroke-linejoin="round" stroke-linecap="round"/>
<polyline points="256.2,248.3 259.2,251.7 260.8,266.7 262.5,268.3 264.5,284.2" fill="none" stroke="#d8143c" stroke-width="1.5" stroke-linejoin="round" stroke-linecap="round"/>
<polyline points="264.5,284.2 267.0,274.2" fill="none" stroke="#1a1a1a" stroke-width="1.5" stroke-linejoin="round" stroke-linecap="round"/>
<polyline points="267.0,274.2 268.3,285.8 270.8,301.7" fill="none" stroke="#d8143c" stroke-width="1.5" stroke-linejoin="round" stroke-linecap="round"/>
<polyline points="270.8,301.7 272.5,300.0 274.2,293.3" fill="none" stroke="#1a1a1a" stroke-width="1.5" stroke-linejoin="round" stroke-linecap="round"/>
<polyline points="274.2,293.3 275.3,296.7" fill="none" stroke="#d8143c" stroke-width="1.5" stroke-linejoin="round" stroke-linecap="round"/>
<polyline points="275.3,296.7 277.0,294.2" fill="none" stroke="#1a1a1a" stroke-width="1.5" stroke-linejoin="round" stroke-linecap="round"/>
<polyline points="277.0,294.2 281.3,316.7" fill="none" stroke="#d8143c" stroke-width="1.5" stroke-linejoin="round" stroke-linecap="round"/>
<polyline points="281.3,316.7 283.0,310.0 284.2,309.2 286.7,295.8" fill="none" stroke="#1a1a1a" stroke-width="1.5" stroke-linejoin="round" stroke-linecap="round"/>
<polyline points="286.7,295.8 288.3,298.3" fill="none" stroke="#d8143c" stroke-width="1.5" stroke-linejoin="round" stroke-linecap="round"/>
<polyline points="288.3,298.3 291.2,290.0" fill="none" stroke="#1a1a1a" stroke-width="1.5" stroke-linejoin="round" stroke-linecap="round"/>
<polyline points="291.2,290.0 292.5,295.0" fill="none" stroke="#d8143c" stroke-width="1.5" stroke-linejoin="round" stroke-linecap="round"/>
<polyline points="292.5,295.0 294.2,294.2" fill="none" stroke="#1a1a1a" stroke-width="1.5" stroke-linejoin="round" stroke-linecap="round"/>
<polyline points="294.2,294.2 296.7,305.8" fill="none" stroke="#d8143c" stroke-width="1.5" stroke-linejoin="round" stroke-linecap="round"/>
<polyline points="296.7,305.8 298.7,305.0 300.8,304.2" fill="none" stroke="#1a1a1a" stroke-width="1.5" stroke-linejoin="round" stroke-linecap="round"/>
<polyline points="300.8,304.2 302.8,310.0" fill="none" stroke="#d8143c" stroke-width="1.5" stroke-linejoin="round" stroke-linecap="round"/>
<polyline points="302.8,310.0 304.2,307.5" fill="none" stroke="#1a1a1a" stroke-width="1.5" stroke-linejoin="round" stroke-linecap="round"/>
<polyline points="304.2,307.5 306.3,315.0" fill="none" stroke="#d8143c" stroke-width="1.5" stroke-linejoin="round" stroke-linecap="round"/>
<polyline points="306.3,315.0 308.3,314.2" fill="none" stroke="#1a1a1a" stroke-width="1.5" stroke-linejoin="round" stroke-linecap="round"/>
<polyline points="308.3,314.2 310.0,318.3 312.0,328.3" fill="none" stroke="#d8143c" stroke-width="1.5" stroke-linejoin="round" stroke-linecap="round"/>
<polyline points="312.0,328.3 313.3,327.5" fill="none" stroke="#1a1a1a" stroke-width="1.5" stroke-linejoin="round" stroke-linecap="round"/>
<polyline points="313.3,327.5 315.8,338.3" fill="none" stroke="#d8143c" stroke-width="1.5" stroke-linejoin="round" stroke-linecap="round"/>
<polyline points="315.8,338.3 317.5,336.7" fill="none" stroke="#1a1a1a" stroke-width="1.5" stroke-linejoin="round" stroke-linecap="round"/>
<polyline points="317.5,336.7 319.2,337.5" fill="none" stroke="#d8143c" stroke-width="1.5" stroke-linejoin="round" stroke-linecap="round"/>
<polyline points="319.2,337.5 320.5,325.0 322.0,305.0 323.3,302.5" fill="none" stroke="#1a1a1a" stroke-width="1.5" stroke-linejoin="round" stroke-linecap="round"/>
<polyline points="323.3,302.5 324.5,315.0" fill="none" stroke="#d8143c" stroke-width="1.5" stroke-linejoin="round" stroke-linecap="round"/>
<polyline points="324.5,315.0 326.2,298.3" fill="none" stroke="#1a1a1a" stroke-width="1.5" stroke-linejoin="round" stroke-linecap="round"/>
<polyline points="326.2,298.3 327.5,305.8 329.2,319.2 330.8,320.8 333.7,330.8" fill="none" stroke="#d8143c" stroke-width="1.5" stroke-linejoin="round" stroke-linecap="round"/>
<polyline points="333.7,330.8 335.8,320.0 337.5,315.8 339.2,314.2 340.3,302.5" fill="none" stroke="#1a1a1a" stroke-width="1.5" stroke-linejoin="round" stroke-linecap="round"/>
<polyline points="340.3,302.5 342.0,313.3" fill="none" stroke="#d8143c" stroke-width="1.5" stroke-linejoin="round" stroke-linecap="round"/>
<polyline points="342.0,313.3 342.8,311.7" fill="none" stroke="#1a1a1a" stroke-width="1.5" stroke-linejoin="round" stroke-linecap="round"/>
<polyline points="342.8,311.7 344.2,325.0" fill="none" stroke="#d8143c" stroke-width="1.5" stroke-linejoin="round" stroke-linecap="round"/>
<polyline points="344.2,325.0 345.3,316.7" fill="none" stroke="#1a1a1a" stroke-width="1.5" stroke-linejoin="round" stroke-linecap="round"/>
<polyline points="345.3,316.7 346.7,325.0 348.3,329.2 350.0,335.8" fill="none" stroke="#d8143c" stroke-width="1.5" stroke-linejoin="round" stroke-linecap="round"/>
<polyline points="350.0,335.8 351.7,333.3 353.3,323.3" fill="none" stroke="#1a1a1a" stroke-width="1.5" stroke-linejoin="round" stroke-linecap="round"/>
<polyline points="353.3,323.3 354.5,326.7" fill="none" stroke="#d8143c" stroke-width="1.5" stroke-linejoin="round" stroke-linecap="round"/>
<polyline points="354.5,326.7 356.2,319.2" fill="none" stroke="#1a1a1a" stroke-width="1.5" stroke-linejoin="round" stroke-linecap="round"/>
<polyline points="356.2,319.2 358.3,321.7" fill="none" stroke="#d8143c" stroke-width="1.5" stroke-linejoin="round" stroke-linecap="round"/>
<polyline points="358.3,321.7 360.0,320.8 361.7,311.7" fill="none" stroke="#1a1a1a" stroke-width="1.5" stroke-linejoin="round" stroke-linecap="round"/>
<polyline points="361.7,311.7 362.8,312.5 364.5,318.3 367.5,320.0" fill="none" stroke="#d8143c" stroke-width="1.5" stroke-linejoin="round" stroke-linecap="round"/>
<polyline points="367.5,320.0 369.2,312.5 371.7,310.0" fill="none" stroke="#1a1a1a" stroke-width="1.5" stroke-linejoin="round" stroke-linecap="round"/>
<polyline points="371.7,310.0 373.3,314.2 375.8,318.3" fill="none" stroke="#d8143c" stroke-width="1.5" stroke-linejoin="round" stroke-linecap="round"/>
<polyline points="375.8,318.3 377.5,317.5" fill="none" stroke="#1a1a1a" stroke-width="1.5" stroke-linejoin="round" stroke-linecap="round"/>
<polyline points="377.5,317.5 380.0,319.2" fill="none" stroke="#d8143c" stroke-width="1.5" stroke-linejoin="round" stroke-linecap="round"/>
<polyline points="380.0,319.2 382.0,318.0 384.2,315.0 385.8,305.0 387.5,296.7 389.2,281.7 390.8,270.8" fill="none" stroke="#1a1a1a" stroke-width="1.5" stroke-linejoin="round" stroke-linecap="round"/>
<polyline points="390.8,270.8 392.0,280.8" fill="none" stroke="#d8143c" stroke-width="1.5" stroke-linejoin="round" stroke-linecap="round"/>
<polyline points="392.0,280.8 393.3,275.0" fill="none" stroke="#1a1a1a" stroke-width="1.5" stroke-linejoin="round" stroke-linecap="round"/>
<polyline points="393.3,275.0 394.5,278.3" fill="none" stroke="#d8143c" stroke-width="1.5" stroke-linejoin="round" stroke-linecap="round"/>
<polyline points="394.5,278.3 395.8,275.8 397.8,268.3" fill="none" stroke="#1a1a1a" stroke-width="1.5" stroke-linejoin="round" stroke-linecap="round"/>
<polyline points="397.8,268.3 400.0,270.0 401.7,278.3 403.3,285.0" fill="none" stroke="#d8143c" stroke-width="1.5" stroke-linejoin="round" stroke-linecap="round"/>
<polyline points="403.3,285.0 404.7,279.2 407.0,278.3 408.3,271.7 410.0,262.5" fill="none" stroke="#1a1a1a" stroke-width="1.5" stroke-linejoin="round" stroke-linecap="round"/>
<polyline points="410.0,262.5 412.5,266.7 414.2,275.8 416.7,285.8" fill="none" stroke="#d8143c" stroke-width="1.5" stroke-linejoin="round" stroke-linecap="round"/>
<polyline points="416.7,285.8 418.8,282.5" fill="none" stroke="#1a1a1a" stroke-width="1.5" stroke-linejoin="round" stroke-linecap="round"/>
<polyline points="418.8,282.5 421.7,295.0" fill="none" stroke="#d8143c" stroke-width="1.5" stroke-linejoin="round" stroke-linecap="round"/>
<polyline points="421.7,295.0 423.7,293.3 425.8,282.5 428.3,280.0 430.8,275.8" fill="none" stroke="#1a1a1a" stroke-width="1.5" stroke-linejoin="round" stroke-linecap="round"/>
<polyline points="430.8,275.8 432.0,279.2" fill="none" stroke="#d8143c" stroke-width="1.5" stroke-linejoin="round" stroke-linecap="round"/>
<polyline points="432.0,279.2 434.2,275.0" fill="none" stroke="#1a1a1a" stroke-width="1.5" stroke-linejoin="round" stroke-linecap="round"/>
<polyline points="434.2,275.0 435.8,277.5" fill="none" stroke="#d8143c" stroke-width="1.5" stroke-linejoin="round" stroke-linecap="round"/>
<polyline points="435.8,277.5 438.7,270.0" fill="none" stroke="#1a1a1a" stroke-width="1.5" stroke-linejoin="round" stroke-linecap="round"/>
<polyline points="438.7,270.0 441.7,277.5" fill="none" stroke="#d8143c" stroke-width="1.5" stroke-linejoin="round" stroke-linecap="round"/>
<polyline points="441.7,277.5 442.8,275.8 444.5,270.8 446.2,270.0" fill="none" stroke="#1a1a1a" stroke-width="1.5" stroke-linejoin="round" stroke-linecap="round"/>
<polyline points="446.2,270.0 447.8,275.8 449.7,286.7" fill="none" stroke="#d8143c" stroke-width="1.5" stroke-linejoin="round" stroke-linecap="round"/>
<polyline points="449.7,286.7 451.2,283.3" fill="none" stroke="#1a1a1a" stroke-width="1.5" stroke-linejoin="round" stroke-linecap="round"/>
<polyline points="451.2,283.3 453.3,293.3" fill="none" stroke="#d8143c" stroke-width="1.5" stroke-linejoin="round" stroke-linecap="round"/>
<polyline points="453.3,293.3 455.0,285.8" fill="none" stroke="#1a1a1a" stroke-width="1.5" stroke-linejoin="round" stroke-linecap="round"/>
<polyline points="455.0,285.8 456.7,290.8" fill="none" stroke="#d8143c" stroke-width="1.5" stroke-linejoin="round" stroke-linecap="round"/>
<polyline points="456.7,290.8 458.3,287.5 460.8,282.5 461.7,279.2 463.3,278.3 465.8,275.0 467.5,262.5 469.5,258.7" fill="none" stroke="#1a1a1a" stroke-width="1.5" stroke-linejoin="round" stroke-linecap="round"/>
<line x1="394.7" y1="262.5" x2="490" y2="254.2" stroke="#ff1414" stroke-width="1.8" stroke-dasharray="3.2 1.8"/>
<line x1="350.8" y1="335" x2="492.5" y2="278.7" stroke="#1a8f1a" stroke-width="1.8" stroke-dasharray="3.2 1.8"/>
<text x="-22.6" y="293.8" font-family="Liberation Sans, Arial, sans-serif" font-size="14" font-weight="bold" fill="#ff0000">trough</text>
<text x="122.4" y="334.7" font-family="Liberation Sans, Arial, sans-serif" font-size="14" font-weight="bold" fill="#ff0000">trough</text>
<text x="306.7" y="343.9" font-family="Liberation Sans, Arial, sans-serif" font-size="14" font-weight="bold" fill="#ff0000">trough</text>
<text x="508.7" y="340.6" font-family="Liberation Sans, Arial, sans-serif" font-size="14" font-weight="bold" fill="#ff0000">trough</text>
<text x="74.2" y="126.3" font-family="Liberation Sans, Arial, sans-serif" font-size="13.8" font-weight="bold" fill="#0000ff">peak</text>
<text x="238.8" y="205" font-family="Liberation Sans, Arial, sans-serif" font-size="13.8" font-weight="bold" fill="#0000ff">peak</text>
<text x="459" y="238.7" font-family="Liberation Sans, Arial, sans-serif" font-size="13.8" font-weight="bold" fill="#0000ff">peak</text>
<text x="162" y="166.7" font-family="Liberation Sans, Arial, sans-serif" font-size="18.67" font-weight="bold" fill="#9400ff" textLength="259.3" lengthAdjust="spacingAndGlyphs">US Dollar Index 16-Year Cycle</text>
</g>
<line x1="16.3" x2="24" y1="113" y2="113" stroke="#000" stroke-width="2"/>
<text x="27.2" y="116.4" font-family="DejaVu Sans, Verdana, sans-serif" font-size="8.3" fill="#000" textLength="110.4" lengthAdjust="spacingAndGlyphs">$USD (Monthly) 103.98</text>
<path d="M16.3 124.5 H24 V120.3 H22.6 V120 H21.3 V118.3 H18.2 V121 H16.3 Z" fill="#2f6f2f"/><path d="M18.1 124.5 V121 M19.8 124.5 V119 M21.3 124.5 V120 M22.7 124.5 V120.5" stroke="#8fb08f" stroke-width="0.5" fill="none"/>
<text x="25.5" y="124.6" font-family="DejaVu Sans, Verdana, sans-serif" font-size="7.8" fill="#1f5f1f" textLength="51.5" lengthAdjust="spacingAndGlyphs">Volume undef</text>
<g clip-path="url(#c3)">
<polyline points="14.4,417.0 16.0,425.0 18.0,418.0 21.0,417.0 24.0,420.0 26.0,424.4 28.4,425.0 30.0,428.0 33.0,427.6 36.0,430.0 39.6,433.0 42.0,429.0 44.4,427.6 46.4,425.0 47.6,428.0 52.0,427.6 55.0,429.6 59.0,429.0 64.0,431.6 69.0,433.4 74.0,432.4 79.0,431.6 83.0,430.6 85.6,427.6 88.0,428.6 92.0,427.0 96.0,426.0 99.0,425.4 101.0,427.4 105.0,427.6 107.0,429.0 109.0,428.0 112.0,429.6 115.0,430.4 118.0,430.0 121.0,428.0 124.0,430.0 128.0,428.6 132.0,430.4 136.0,430.0 140.0,431.0 146.0,432.0 150.0,432.4 155.0,431.6 158.4,428.6 160.0,430.0 163.0,429.0 168.0,429.0 174.0,429.6 180.0,429.0 186.0,428.6 192.0,429.4 198.0,431.0 202.0,432.0 206.0,433.6 210.0,433.0 214.0,433.4 218.0,433.6 222.0,434.0 225.0,433.0 229.0,433.6 232.0,434.0 234.0,433.4 238.0,434.4 244.0,434.4 250.0,433.0 254.0,431.6 258.0,432.0 261.0,430.4 265.0,430.6 269.0,429.0 273.0,428.0 277.0,427.6 281.0,426.6 285.0,427.4 288.0,427.4 291.0,424.0 293.0,422.0 295.0,418.6 298.0,420.0 301.0,420.0 304.0,419.0 307.0,418.0 309.0,418.6 311.0,415.0 313.0,411.0 315.0,406.0 317.0,409.0 319.0,407.4 321.0,410.0 322.6,415.0 325.0,408.0 328.0,407.4 330.0,406.0 332.0,403.0 333.6,397.0 335.0,400.0 338.0,397.0 340.0,395.0 341.6,396.0 343.6,392.0 345.6,388.0 347.0,390.0 349.0,382.0 350.4,382.5 351.6,382.0 353.0,370.0 354.4,378.0 356.0,374.0 358.0,376.0 360.0,379.0 362.0,380.0 364.4,373.0 367.0,375.0 369.6,379.0 371.6,389.0 373.0,395.0 375.0,390.0 378.0,394.0 380.0,392.0 382.0,391.0 384.0,393.0 387.0,398.0 389.0,394.0 391.0,397.0 394.0,398.0 396.0,400.0 398.4,401.4 401.0,396.0 403.0,392.0 405.6,390.0 407.6,393.0 409.6,398.0 412.0,394.0 415.0,392.0 417.0,391.0 419.0,393.0 421.0,390.6 423.6,392.0 426.0,393.0 428.0,396.0 431.0,392.0 433.0,393.0 435.6,390.0 438.0,383.0 440.0,383.8 441.7,383.0 442.9,380.9 444.6,380.5 445.8,377.2 447.1,371.3 448.3,363.4 450.0,366.3 451.3,368.8 452.1,370.5 452.9,368.0 453.8,372.2 454.6,373.4 455.4,373.4 456.3,370.5 457.3,366.8 457.9,371.3 458.8,370.5 460.0,371.3 461.7,372.2 462.9,371.3 464.2,370.5 465.0,370.9 465.8,368.0 466.7,365.1 467.9,367.6 469.2,370.5" fill="none" stroke="#111" stroke-width="1.2" stroke-linejoin="round"/>
<line x1="234.4" y1="438" x2="520" y2="377.2" stroke="#178717" stroke-width="2.4"/>
<path d="M530 375 L518 371.8 L520.2 382.8 Z" fill="#178717"/>
<line x1="451.6" y1="375" x2="474" y2="375" stroke="#14a014" stroke-width="1.7" stroke-dasharray="3.4 1.8"/>
<text x="373.6" y="366.8" font-family="Liberation Sans, Arial, sans-serif" font-size="12" font-weight="bold" fill="#0000ff" textLength="53.4" lengthAdjust="spacingAndGlyphs">T1 $3,000</text>
</g>
<line x1="16.3" x2="24" y1="363.5" y2="363.5" stroke="#000" stroke-width="1.8"/>
<text x="27.1" y="366.8" font-family="DejaVu Sans, Verdana, sans-serif" font-size="8.3" fill="#000" textLength="74" lengthAdjust="spacingAndGlyphs">$GOLD 1838.40</text>
<rect x="14.5" y="24.5" width="548.0" height="83.0" fill="none" stroke="#1c1c1c" stroke-width="1"/>
<rect x="14.5" y="107.5" width="548.0" height="238.0" fill="none" stroke="#1c1c1c" stroke-width="1"/>
<rect x="14.5" y="357.5" width="548.0" height="83.0" fill="none" stroke="#1c1c1c" stroke-width="1"/>
<line x1="562.5" x2="564.0" y1="99.68" y2="99.68" stroke="#000" stroke-width="1"/>
<line x1="562.5" x2="564.0" y1="96.84" y2="96.84" stroke="#000" stroke-width="1"/>
<line x1="562.5" x2="564.0" y1="91.16" y2="91.16" stroke="#000" stroke-width="1"/>
<line x1="562.5" x2="564.0" y1="88.32" y2="88.32" stroke="#000" stroke-width="1"/>
<line x1="562.5" x2="564.0" y1="85.48" y2="85.48" stroke="#000" stroke-width="1"/>
<line x1="562.5" x2="564.0" y1="82.64" y2="82.64" stroke="#000" stroke-width="1"/>
<line x1="562.5" x2="564.0" y1="76.96" y2="76.96" stroke="#000" stroke-width="1"/>
<line x1="562.5" x2="564.0" y1="74.12" y2="74.12" stroke="#000" stroke-width="1"/>
<line x1="562.5" x2="564.0" y1="71.28" y2="71.28" stroke="#000" stroke-width="1"/>
<line x1="562.5" x2="564.0" y1="68.44" y2="68.44" stroke="#000" stroke-width="1"/>
<line x1="562.5" x2="564.0" y1="62.76" y2="62.76" stroke="#000" stroke-width="1"/>
<line x1="562.5" x2="564.0" y1="59.92" y2="59.92" stroke="#000" stroke-width="1"/>
<line x1="562.5" x2="564.0" y1="57.08" y2="57.08" stroke="#000" stroke-width="1"/>
<line x1="562.5" x2="564.0" y1="54.24" y2="54.24" stroke="#000" stroke-width="1"/>
<line x1="562.5" x2="564.0" y1="48.56" y2="48.56" stroke="#000" stroke-width="1"/>
<line x1="562.5" x2="564.0" y1="45.72" y2="45.72" stroke="#000" stroke-width="1"/>
<line x1="562.5" x2="564.0" y1="42.88" y2="42.88" stroke="#000" stroke-width="1"/>
<line x1="562.5" x2="564.0" y1="40.04" y2="40.04" stroke="#000" stroke-width="1"/>
<line x1="562.5" x2="564.0" y1="34.36" y2="34.36" stroke="#000" stroke-width="1"/>
<line x1="562.5" x2="564.0" y1="31.52" y2="31.52" stroke="#000" stroke-width="1"/>
<line x1="562.5" x2="565.5" y1="37.20" y2="37.20" stroke="#000" stroke-width="1"/>
<text x="565.4" y="40.3" font-family="Liberation Sans, Arial, sans-serif" font-size="9.4" fill="#000">90</text>
<line x1="562.5" x2="565.5" y1="51.40" y2="51.40" stroke="#000" stroke-width="1"/>
<text x="565.4" y="54.5" font-family="Liberation Sans, Arial, sans-serif" font-size="9.4" fill="#000">70</text>
<line x1="562.5" x2="565.5" y1="65.60" y2="65.60" stroke="#000" stroke-width="1"/>
<text x="565.4" y="68.7" font-family="Liberation Sans, Arial, sans-serif" font-size="9.4" fill="#000">50</text>
<line x1="562.5" x2="565.5" y1="79.80" y2="79.80" stroke="#000" stroke-width="1"/>
<text x="565.4" y="82.9" font-family="Liberation Sans, Arial, sans-serif" font-size="9.4" fill="#000">30</text>
<line x1="562.5" x2="565.5" y1="94.00" y2="94.00" stroke="#000" stroke-width="1"/>
<text x="565.4" y="97.1" font-family="Liberation Sans, Arial, sans-serif" font-size="9.4" fill="#000">10</text>
<line x1="562.5" x2="564.7" y1="114.60" y2="114.60" stroke="#000" stroke-width="1"/>
<text x="580.9" y="117.1" font-family="Liberation Sans, Arial, sans-serif" font-size="9.4" fill="#000" text-anchor="end">160</text>
<line x1="562.5" x2="564.7" y1="127.34" y2="127.34" stroke="#000" stroke-width="1"/>
<text x="580.9" y="129.8" font-family="Liberation Sans, Arial, sans-serif" font-size="9.4" fill="#000" text-anchor="end">155</text>
<line x1="562.5" x2="564.7" y1="140.08" y2="140.08" stroke="#000" stroke-width="1"/>
<text x="580.9" y="142.6" font-family="Liberation Sans, Arial, sans-serif" font-size="9.4" fill="#000" text-anchor="end">150</text>
<line x1="562.5" x2="564.7" y1="152.82" y2="152.82" stroke="#000" stroke-width="1"/>
<text x="580.9" y="155.3" font-family="Liberation Sans, Arial, sans-serif" font-size="9.4" fill="#000" text-anchor="end">145</text>
<line x1="562.5" x2="564.7" y1="165.56" y2="165.56" stroke="#000" stroke-width="1"/>
<text x="580.9" y="168.1" font-family="Liberation Sans, Arial, sans-serif" font-size="9.4" fill="#000" text-anchor="end">140</text>
<line x1="562.5" x2="564.7" y1="178.30" y2="178.30" stroke="#000" stroke-width="1"/>
<text x="580.9" y="180.8" font-family="Liberation Sans, Arial, sans-serif" font-size="9.4" fill="#000" text-anchor="end">135</text>
<line x1="562.5" x2="564.7" y1="191.04" y2="191.04" stroke="#000" stroke-width="1"/>
<text x="580.9" y="193.5" font-family="Liberation Sans, Arial, sans-serif" font-size="9.4" fill="#000" text-anchor="end">130</text>
<line x1="562.5" x2="564.7" y1="203.78" y2="203.78" stroke="#000" stroke-width="1"/>
<text x="580.9" y="206.3" font-family="Liberation Sans, Arial, sans-serif" font-size="9.4" fill="#000" text-anchor="end">125</text>
<line x1="562.5" x2="564.7" y1="216.52" y2="216.52" stroke="#000" stroke-width="1"/>
<text x="580.9" y="219.0" font-family="Liberation Sans, Arial, sans-serif" font-size="9.4" fill="#000" text-anchor="end">120</text>
<line x1="562.5" x2="564.7" y1="229.26" y2="229.26" stroke="#000" stroke-width="1"/>
<text x="580.9" y="231.8" font-family="Liberation Sans, Arial, sans-serif" font-size="9.4" fill="#000" text-anchor="end">115</text>
<line x1="562.5" x2="564.7" y1="242.00" y2="242.00" stroke="#000" stroke-width="1"/>
<text x="580.9" y="244.5" font-family="Liberation Sans, Arial, sans-serif" font-size="9.4" fill="#000" text-anchor="end">110</text>
<line x1="562.5" x2="564.7" y1="254.74" y2="254.74" stroke="#000" stroke-width="1"/>
<text x="580.9" y="257.2" font-family="Liberation Sans, Arial, sans-serif" font-size="9.4" fill="#000" text-anchor="end">105</text>
<line x1="562.5" x2="564.7" y1="267.48" y2="267.48" stroke="#000" stroke-width="1"/>
<text x="580.9" y="270.0" font-family="Liberation Sans, Arial, sans-serif" font-size="9.4" fill="#000" text-anchor="end">100</text>
<line x1="562.5" x2="564.7" y1="280.22" y2="280.22" stroke="#000" stroke-width="1"/>
<text x="580.9" y="282.7" font-family="Liberation Sans, Arial, sans-serif" font-size="9.4" fill="#000" text-anchor="end">95</text>
<line x1="562.5" x2="564.7" y1="292.96" y2="292.96" stroke="#000" stroke-width="1"/>
<text x="580.9" y="295.5" font-family="Liberation Sans, Arial, sans-serif" font-size="9.4" fill="#000" text-anchor="end">90</text>
<line x1="562.5" x2="564.7" y1="305.70" y2="305.70" stroke="#000" stroke-width="1"/>
<text x="580.9" y="308.2" font-family="Liberation Sans, Arial, sans-serif" font-size="9.4" fill="#000" text-anchor="end">85</text>
<line x1="562.5" x2="564.7" y1="318.44" y2="318.44" stroke="#000" stroke-width="1"/>
<text x="580.9" y="320.9" font-family="Liberation Sans, Arial, sans-serif" font-size="9.4" fill="#000" text-anchor="end">80</text>
<line x1="562.5" x2="564.7" y1="331.18" y2="331.18" stroke="#000" stroke-width="1"/>
<text x="580.9" y="333.7" font-family="Liberation Sans, Arial, sans-serif" font-size="9.4" fill="#000" text-anchor="end">75</text>
<line x1="562.5" x2="564.7" y1="363.40" y2="363.40" stroke="#000" stroke-width="1"/>
<text x="585.8" y="365.9" font-family="Liberation Sans, Arial, sans-serif" font-size="9.4" fill="#000" text-anchor="end">2000</text>
<line x1="562.5" x2="564.7" y1="373.62" y2="373.62" stroke="#000" stroke-width="1"/>
<text x="585.8" y="376.1" font-family="Liberation Sans, Arial, sans-serif" font-size="9.4" fill="#000" text-anchor="end">1750</text>
<line x1="562.5" x2="564.7" y1="383.85" y2="383.85" stroke="#000" stroke-width="1"/>
<text x="585.8" y="386.3" font-family="Liberation Sans, Arial, sans-serif" font-size="9.4" fill="#000" text-anchor="end">1500</text>
<line x1="562.5" x2="564.7" y1="394.07" y2="394.07" stroke="#000" stroke-width="1"/>
<text x="585.8" y="396.6" font-family="Liberation Sans, Arial, sans-serif" font-size="9.4" fill="#000" text-anchor="end">1250</text>
<line x1="562.5" x2="564.7" y1="404.30" y2="404.30" stroke="#000" stroke-width="1"/>
<text x="585.8" y="406.8" font-family="Liberation Sans, Arial, sans-serif" font-size="9.4" fill="#000" text-anchor="end">1000</text>
<line x1="562.5" x2="564.7" y1="414.52" y2="414.52" stroke="#000" stroke-width="1"/>
<text x="585.8" y="417.0" font-family="Liberation Sans, Arial, sans-serif" font-size="9.4" fill="#000" text-anchor="end">750</text>
<line x1="562.5" x2="564.7" y1="424.75" y2="424.75" stroke="#000" stroke-width="1"/>
<text x="585.8" y="427.2" font-family="Liberation Sans, Arial, sans-serif" font-size="9.4" fill="#000" text-anchor="end">500</text>
<line x1="562.5" x2="564.7" y1="434.97" y2="434.97" stroke="#000" stroke-width="1"/>
<text x="585.8" y="437.5" font-family="Liberation Sans, Arial, sans-serif" font-size="9.4" fill="#000" text-anchor="end">250</text>
<line x1="35.7" x2="35.7" y1="345.5" y2="347.7" stroke="#000" stroke-width="1"/>
<line x1="35.7" x2="35.7" y1="355.3" y2="357.5" stroke="#000" stroke-width="1"/>
<line x1="35.7" x2="35.7" y1="440.5" y2="442.7" stroke="#000" stroke-width="1"/>
<text x="34.8" y="355.2" font-family="Liberation Sans, Arial, sans-serif" font-size="9.4" fill="#000" text-anchor="middle">82</text>
<text x="34.8" y="450.2" font-family="Liberation Sans, Arial, sans-serif" font-size="9.4" fill="#000" text-anchor="middle">82</text>
<line x1="57.1" x2="57.1" y1="345.5" y2="347.7" stroke="#000" stroke-width="1"/>
<line x1="57.1" x2="57.1" y1="355.3" y2="357.5" stroke="#000" stroke-width="1"/>
<line x1="57.1" x2="57.1" y1="440.5" y2="442.7" stroke="#000" stroke-width="1"/>
<text x="56.3" y="355.2" font-family="Liberation Sans, Arial, sans-serif" font-size="9.4" fill="#000" text-anchor="middle">84</text>
<text x="56.3" y="450.2" font-family="Liberation Sans, Arial, sans-serif" font-size="9.4" fill="#000" text-anchor="middle">84</text>
<line x1="78.5" x2="78.5" y1="345.5" y2="347.7" stroke="#000" stroke-width="1"/>
<line x1="78.5" x2="78.5" y1="355.3" y2="357.5" stroke="#000" stroke-width="1"/>
<line x1="78.5" x2="78.5" y1="440.5" y2="442.7" stroke="#000" stroke-width="1"/>
<text x="77.7" y="355.2" font-family="Liberation Sans, Arial, sans-serif" font-size="9.4" fill="#000" text-anchor="middle">86</text>
<text x="77.7" y="450.2" font-family="Liberation Sans, Arial, sans-serif" font-size="9.4" fill="#000" text-anchor="middle">86</text>
<line x1="100.0" x2="100.0" y1="345.5" y2="347.7" stroke="#000" stroke-width="1"/>
<line x1="100.0" x2="100.0" y1="355.3" y2="357.5" stroke="#000" stroke-width="1"/>
<line x1="100.0" x2="100.0" y1="440.5" y2="442.7" stroke="#000" stroke-width="1"/>
<text x="99.2" y="355.2" font-family="Liberation Sans, Arial, sans-serif" font-size="9.4" fill="#000" text-anchor="middle">88</text>
<text x="99.2" y="450.2" font-family="Liberation Sans, Arial, sans-serif" font-size="9.4" fill="#000" text-anchor="middle">88</text>
<line x1="121.4" x2="121.4" y1="345.5" y2="347.7" stroke="#000" stroke-width="1"/>
<line x1="121.4" x2="121.4" y1="355.3" y2="357.5" stroke="#000" stroke-width="1"/>
<line x1="121.4" x2="121.4" y1="440.5" y2="442.7" stroke="#000" stroke-width="1"/>
<text x="120.7" y="355.2" font-family="Liberation Sans, Arial, sans-serif" font-size="9.4" fill="#000" text-anchor="middle">90</text>
<text x="120.7" y="450.2" font-family="Liberation Sans, Arial, sans-serif" font-size="9.4" fill="#000" text-anchor="middle">90</text>
<line x1="142.8" x2="142.8" y1="345.5" y2="347.7" stroke="#000" stroke-width="1"/>
<line x1="142.8" x2="142.8" y1="355.3" y2="357.5" stroke="#000" stroke-width="1"/>
<line x1="142.8" x2="142.8" y1="440.5" y2="442.7" stroke="#000" stroke-width="1"/>
<text x="142.1" y="355.2" font-family="Liberation Sans, Arial, sans-serif" font-size="9.4" fill="#000" text-anchor="middle">92</text>
<text x="142.1" y="450.2" font-family="Liberation Sans, Arial, sans-serif" font-size="9.4" fill="#000" text-anchor="middle">92</text>
<line x1="164.2" x2="164.2" y1="345.5" y2="347.7" stroke="#000" stroke-width="1"/>
<line x1="164.2" x2="164.2" y1="355.3" y2="357.5" stroke="#000" stroke-width="1"/>
<line x1="164.2" x2="164.2" y1="440.5" y2="442.7" stroke="#000" stroke-width="1"/>
<text x="163.6" y="355.2" font-family="Liberation Sans, Arial, sans-serif" font-size="9.4" fill="#000" text-anchor="middle">94</text>
<text x="163.6" y="450.2" font-family="Liberation Sans, Arial, sans-serif" font-size="9.4" fill="#000" text-anchor="middle">94</text>
<line x1="185.6" x2="185.6" y1="345.5" y2="347.7" stroke="#000" stroke-width="1"/>
<line x1="185.6" x2="185.6" y1="355.3" y2="357.5" stroke="#000" stroke-width="1"/>
<line x1="185.6" x2="185.6" y1="440.5" y2="442.7" stroke="#000" stroke-width="1"/>
<text x="185.1" y="355.2" font-family="Liberation Sans, Arial, sans-serif" font-size="9.4" fill="#000" text-anchor="middle">96</text>
<text x="185.1" y="450.2" font-family="Liberation Sans, Arial, sans-serif" font-size="9.4" fill="#000" text-anchor="middle">96</text>
<line x1="207.1" x2="207.1" y1="345.5" y2="347.7" stroke="#000" stroke-width="1"/>
<line x1="207.1" x2="207.1" y1="355.3" y2="357.5" stroke="#000" stroke-width="1"/>
<line x1="207.1" x2="207.1" y1="440.5" y2="442.7" stroke="#000" stroke-width="1"/>
<text x="206.5" y="355.2" font-family="Liberation Sans, Arial, sans-serif" font-size="9.4" fill="#000" text-anchor="middle">98</text>
<text x="206.5" y="450.2" font-family="Liberation Sans, Arial, sans-serif" font-size="9.4" fill="#000" text-anchor="middle">98</text>
<line x1="228.5" x2="228.5" y1="345.5" y2="347.7" stroke="#000" stroke-width="1"/>
<line x1="228.5" x2="228.5" y1="355.3" y2="357.5" stroke="#000" stroke-width="1"/>
<line x1="228.5" x2="228.5" y1="440.5" y2="442.7" stroke="#000" stroke-width="1"/>
<text x="228.0" y="355.2" font-family="Liberation Sans, Arial, sans-serif" font-size="9.4" fill="#000" text-anchor="middle">00</text>
<text x="228.0" y="450.2" font-family="Liberation Sans, Arial, sans-serif" font-size="9.4" fill="#000" text-anchor="middle">00</text>
<line x1="249.9" x2="249.9" y1="345.5" y2="347.7" stroke="#000" stroke-width="1"/>
<line x1="249.9" x2="249.9" y1="355.3" y2="357.5" stroke="#000" stroke-width="1"/>
<line x1="249.9" x2="249.9" y1="440.5" y2="442.7" stroke="#000" stroke-width="1"/>
<text x="249.5" y="355.2" font-family="Liberation Sans, Arial, sans-serif" font-size="9.4" fill="#000" text-anchor="middle">02</text>
<text x="249.5" y="450.2" font-family="Liberation Sans, Arial, sans-serif" font-size="9.4" fill="#000" text-anchor="middle">02</text>
<line x1="271.3" x2="271.3" y1="345.5" y2="347.7" stroke="#000" stroke-width="1"/>
<line x1="271.3" x2="271.3" y1="355.3" y2="357.5" stroke="#000" stroke-width="1"/>
<line x1="271.3" x2="271.3" y1="440.5" y2="442.7" stroke="#000" stroke-width="1"/>
<text x="270.9" y="355.2" font-family="Liberation Sans, Arial, sans-serif" font-size="9.4" fill="#000" text-anchor="middle">04</text>
<text x="270.9" y="450.2" font-family="Liberation Sans, Arial, sans-serif" font-size="9.4" fill="#000" text-anchor="middle">04</text>
<line x1="292.7" x2="292.7" y1="345.5" y2="347.7" stroke="#000" stroke-width="1"/>
<line x1="292.7" x2="292.7" y1="355.3" y2="357.5" stroke="#000" stroke-width="1"/>
<line x1="292.7" x2="292.7" y1="440.5" y2="442.7" stroke="#000" stroke-width="1"/>
<text x="292.4" y="355.2" font-family="Liberation Sans, Arial, sans-serif" font-size="9.4" fill="#000" text-anchor="middle">06</text>
<text x="292.4" y="450.2" font-family="Liberation Sans, Arial, sans-serif" font-size="9.4" fill="#000" text-anchor="middle">06</text>
<line x1="314.2" x2="314.2" y1="345.5" y2="347.7" stroke="#000" stroke-width="1"/>
<line x1="314.2" x2="314.2" y1="355.3" y2="357.5" stroke="#000" stroke-width="1"/>
<line x1="314.2" x2="314.2" y1="440.5" y2="442.7" stroke="#000" stroke-width="1"/>
<text x="313.9" y="355.2" font-family="Liberation Sans, Arial, sans-serif" font-size="9.4" fill="#000" text-anchor="middle">08</text>
<text x="313.9" y="450.2" font-family="Liberation Sans, Arial, sans-serif" font-size="9.4" fill="#000" text-anchor="middle">08</text>
<line x1="335.6" x2="335.6" y1="345.5" y2="347.7" stroke="#000" stroke-width="1"/>
<line x1="335.6" x2="335.6" y1="355.3" y2="357.5" stroke="#000" stroke-width="1"/>
<line x1="335.6" x2="335.6" y1="440.5" y2="442.7" stroke="#000" stroke-width="1"/>
<text x="335.3" y="355.2" font-family="Liberation Sans, Arial, sans-serif" font-size="9.4" fill="#000" text-anchor="middle">10</text>
<text x="335.3" y="450.2" font-family="Liberation Sans, Arial, sans-serif" font-size="9.4" fill="#000" text-anchor="middle">10</text>
<line x1="357.0" x2="357.0" y1="345.5" y2="347.7" stroke="#000" stroke-width="1"/>
<line x1="357.0" x2="357.0" y1="355.3" y2="357.5" stroke="#000" stroke-width="1"/>
<line x1="357.0" x2="357.0" y1="440.5" y2="442.7" stroke="#000" stroke-width="1"/>
<text x="356.8" y="355.2" font-family="Liberation Sans, Arial, sans-serif" font-size="9.4" fill="#000" text-anchor="middle">12</text>
<text x="356.8" y="450.2" font-family="Liberation Sans, Arial, sans-serif" font-size="9.4" fill="#000" text-anchor="middle">12</text>
<line x1="378.4" x2="378.4" y1="345.5" y2="347.7" stroke="#000" stroke-width="1"/>
<line x1="378.4" x2="378.4" y1="355.3" y2="357.5" stroke="#000" stroke-width="1"/>
<line x1="378.4" x2="378.4" y1="440.5" y2="442.7" stroke="#000" stroke-width="1"/>
<text x="378.3" y="355.2" font-family="Liberation Sans, Arial, sans-serif" font-size="9.4" fill="#000" text-anchor="middle">14</text>
<text x="378.3" y="450.2" font-family="Liberation Sans, Arial, sans-serif" font-size="9.4" fill="#000" text-anchor="middle">14</text>
<line x1="399.8" x2="399.8" y1="345.5" y2="347.7" stroke="#000" stroke-width="1"/>
<line x1="399.8" x2="399.8" y1="355.3" y2="357.5" stroke="#000" stroke-width="1"/>
<line x1="399.8" x2="399.8" y1="440.5" y2="442.7" stroke="#000" stroke-width="1"/>
<text x="399.7" y="355.2" font-family="Liberation Sans, Arial, sans-serif" font-size="9.4" fill="#000" text-anchor="middle">16</text>
<text x="399.7" y="450.2" font-family="Liberation Sans, Arial, sans-serif" font-size="9.4" fill="#000" text-anchor="middle">16</text>
<line x1="421.3" x2="421.3" y1="345.5" y2="347.7" stroke="#000" stroke-width="1"/>
<line x1="421.3" x2="421.3" y1="355.3" y2="357.5" stroke="#000" stroke-width="1"/>
<line x1="421.3" x2="421.3" y1="440.5" y2="442.7" stroke="#000" stroke-width="1"/>
<text x="421.2" y="355.2" font-family="Liberation Sans, Arial, sans-serif" font-size="9.4" fill="#000" text-anchor="middle">18</text>
<text x="421.2" y="450.2" font-family="Liberation Sans, Arial, sans-serif" font-size="9.4" fill="#000" text-anchor="middle">18</text>
<line x1="442.7" x2="442.7" y1="345.5" y2="347.7" stroke="#000" stroke-width="1"/>
<line x1="442.7" x2="442.7" y1="355.3" y2="357.5" stroke="#000" stroke-width="1"/>
<line x1="442.7" x2="442.7" y1="440.5" y2="442.7" stroke="#000" stroke-width="1"/>
<text x="442.7" y="355.2" font-family="Liberation Sans, Arial, sans-serif" font-size="9.4" fill="#000" text-anchor="middle">20</text>
<text x="442.7" y="450.2" font-family="Liberation Sans, Arial, sans-serif" font-size="9.4" fill="#000" text-anchor="middle">20</text>
<line x1="464.1" x2="464.1" y1="345.5" y2="347.7" stroke="#000" stroke-width="1"/>
<line x1="464.1" x2="464.1" y1="355.3" y2="357.5" stroke="#000" stroke-width="1"/>
<line x1="464.1" x2="464.1" y1="440.5" y2="442.7" stroke="#000" stroke-width="1"/>
<text x="464.1" y="355.2" font-family="Liberation Sans, Arial, sans-serif" font-size="9.4" fill="#000" text-anchor="middle">22</text>
<text x="464.1" y="450.2" font-family="Liberation Sans, Arial, sans-serif" font-size="9.4" fill="#000" text-anchor="middle">22</text>
<line x1="485.5" x2="485.5" y1="345.5" y2="347.7" stroke="#000" stroke-width="1"/>
<line x1="485.5" x2="485.5" y1="355.3" y2="357.5" stroke="#000" stroke-width="1"/>
<line x1="485.5" x2="485.5" y1="440.5" y2="442.7" stroke="#000" stroke-width="1"/>
<text x="485.6" y="355.2" font-family="Liberation Sans, Arial, sans-serif" font-size="9.4" fill="#000" text-anchor="middle">24</text>
<text x="485.6" y="450.2" font-family="Liberation Sans, Arial, sans-serif" font-size="9.4" fill="#000" text-anchor="middle">24</text>
<line x1="506.9" x2="506.9" y1="345.5" y2="347.7" stroke="#000" stroke-width="1"/>
<line x1="506.9" x2="506.9" y1="355.3" y2="357.5" stroke="#000" stroke-width="1"/>
<line x1="506.9" x2="506.9" y1="440.5" y2="442.7" stroke="#000" stroke-width="1"/>
<text x="507.1" y="355.2" font-family="Liberation Sans, Arial, sans-serif" font-size="9.4" fill="#000" text-anchor="middle">26</text>
<text x="507.1" y="450.2" font-family="Liberation Sans, Arial, sans-serif" font-size="9.4" fill="#000" text-anchor="middle">26</text>
<line x1="528.4" x2="528.4" y1="345.5" y2="347.7" stroke="#000" stroke-width="1"/>
<line x1="528.4" x2="528.4" y1="355.3" y2="357.5" stroke="#000" stroke-width="1"/>
<line x1="528.4" x2="528.4" y1="440.5" y2="442.7" stroke="#000" stroke-width="1"/>
<text x="528.5" y="355.2" font-family="Liberation Sans, Arial, sans-serif" font-size="9.4" fill="#000" text-anchor="middle">28</text>
<text x="528.5" y="450.2" font-family="Liberation Sans, Arial, sans-serif" font-size="9.4" fill="#000" text-anchor="middle">28</text>
<line x1="549.8" x2="549.8" y1="345.5" y2="347.7" stroke="#000" stroke-width="1"/>
<line x1="549.8" x2="549.8" y1="355.3" y2="357.5" stroke="#000" stroke-width="1"/>
<line x1="549.8" x2="549.8" y1="440.5" y2="442.7" stroke="#000" stroke-width="1"/>
<text x="550.0" y="355.2" font-family="Liberation Sans, Arial, sans-serif" font-size="9.4" fill="#000" text-anchor="middle">30</text>
<text x="550.0" y="450.2" font-family="Liberation Sans, Arial, sans-serif" font-size="9.4" fill="#000" text-anchor="middle">30</text>
</svg>
</body></html>
